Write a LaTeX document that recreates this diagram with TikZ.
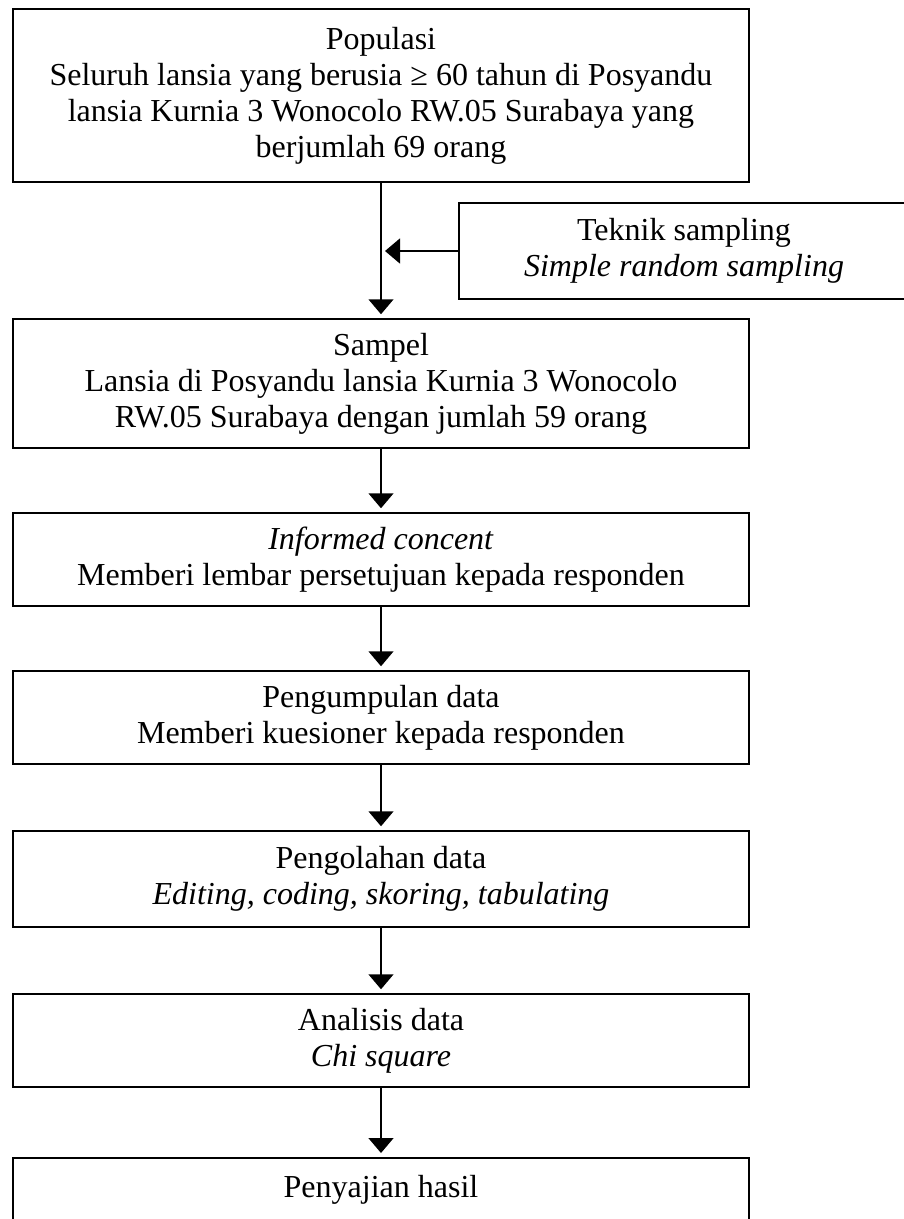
\documentclass[tikz,border=0pt]{standalone}
\usepackage{fontspec}
\setmainfont{Liberation Serif}
\usetikzlibrary{arrows.meta}

\tikzset{
    box/.style={draw, line width=1.5pt, minimum width=736pt, align=center, inner sep=0pt,
        font=\fontsize{32}{36}\selectfont},
    lastbox/.style={box, anchor=north, inner ysep=16pt, text height=24pt, text depth=60pt},
    arr/.style={line width=1.5pt, -{Triangle[width=25pt,length=15pt]}, shorten >=4pt}
}

\begin{document}
\begin{tikzpicture}[x=1pt,y=-1pt]
    \useasboundingbox (0,0) rectangle (903,1219);
    % boxes, top to bottom
    \node[box, minimum height=173pt] (pop) at (381,95.5) {Populasi\\Seluruh lansia yang berusia ≥ 60 tahun di Posyandu\\lansia Kurnia 3 Wonocolo RW.05 Surabaya yang\\berjumlah 69 orang};
    \node[box, minimum width=450pt, minimum height=96pt] (teknik) at (684,251) {Teknik sampling\\\textit{Simple random sampling}};
    \node[box, minimum height=129pt] (sampel) at (381,383.5) {Sampel\\Lansia di Posyandu lansia Kurnia 3 Wonocolo\\RW.05 Surabaya dengan jumlah 59 orang};
    \node[box, minimum height=93pt] (consent) at (381,559.5) {\textit{Informed concent}\\Memberi lembar persetujuan kepada responden};
    \node[box, minimum height=93pt] (kumpul) at (381,717.5) {Pengumpulan data\\Memberi kuesioner kepada responden};
    \node[box, minimum height=96pt] (olah) at (381,879) {Pengolahan data\\\textit{Editing, coding, skoring, tabulating}};
    \node[box, minimum height=93pt] (analisis) at (381,1040.5) {Analisis data\\\textit{Chi square}};
    \node[lastbox] (saji) at (381,1157) {Penyajian hasil};
    % arrows
    \draw[arr] (pop.south) -- (sampel.north);
    \draw[arr] (teknik.west) -- (teknik.west -| pop.south);
    \draw[arr] (sampel.south) -- (consent.north);
    \draw[arr] (consent.south) -- (kumpul.north);
    \draw[arr] (kumpul.south) -- (olah.north);
    \draw[arr] (olah.south) -- (analisis.north);
    \draw[arr] (analisis.south) -- (saji.north);
\end{tikzpicture}
\end{document}
